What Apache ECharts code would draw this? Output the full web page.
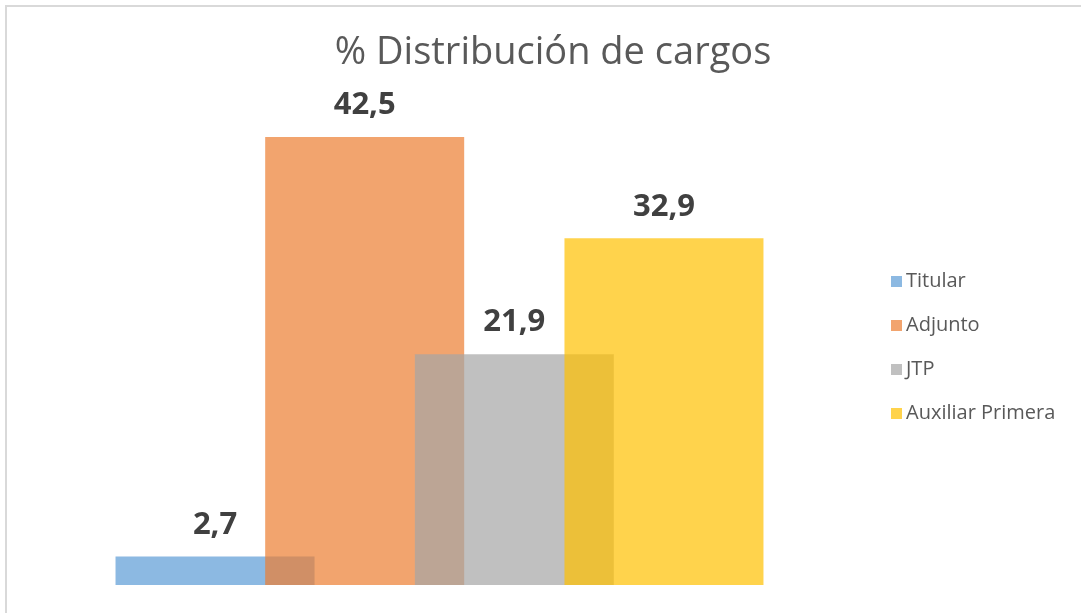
<!DOCTYPE html>
<html><head><meta charset="utf-8">
<script src="https://cdn.jsdelivr.net/npm/echarts@6/dist/echarts.min.js"></script>
<style>
html,body{margin:0;padding:0;background:#fff;}
#wrap{position:relative;width:1081px;height:613px;overflow:hidden;}
#frame{position:absolute;left:5px;top:5px;width:1100px;height:700px;border-top:2px solid #d9d9d9;border-left:2px solid #d9d9d9;box-sizing:border-box;}
#chart{position:absolute;left:0;top:0;width:1081px;height:613px;}
</style></head>
<body><div id="wrap"><div id="frame"></div><div id="chart"></div></div>
<script>
const titleText = '% Distribución de cargos';
const categories = ['Cargos'];
const seriesNames = ['Titular', 'Adjunto', 'JTP', 'Auxiliar Primera'];
const seriesValues = [2.7, 42.5, 21.9, 32.9];
const seriesColors = ['rgba(91,155,213,0.7)', 'rgba(237,125,49,0.7)', 'rgba(165,165,165,0.7)', 'rgba(255,192,0,0.7)'];

const chart = echarts.init(document.getElementById('chart'), null, {renderer: 'canvas'});
const series = seriesNames.map((name, i) => ({
  name: name,
  type: 'bar',
  data: [seriesValues[i]],
  barWidth: 199,
  barGap: '-24.8%',
  itemStyle: {color: seriesColors[i]},
  emphasis: {disabled: true},
  label: {
    show: true, position: 'top', distance: 16,
    fontFamily: 'Open Sans', fontWeight: 'bold', fontSize: 31, color: '#404040',
    formatter: p => String(p.value).replace('.', ',')
  }
}));
chart.setOption({
  animation: false,
  backgroundColor: 'transparent',
  title: {
    text: titleText, left: 548, textAlign: 'center', top: 29,
    textStyle: {fontFamily: 'Open Sans', fontWeight: 'normal', fontSize: 38, color: '#595959'}
  },
  legend: {
    orient: 'vertical', left: 886, top: 266, itemGap: 23,
    itemWidth: 11, itemHeight: 11, icon: 'rect',
    textStyle: {fontFamily: 'Open Sans', fontSize: 20, lineHeight: 21, color: '#595959', padding: [0,0,0,-1]},
    data: seriesNames
  },
  grid: {left: 115, right: 317, top: 137, bottom: 28},
  xAxis: {type: 'category', data: categories, show: false},
  yAxis: {type: 'value', min: 0, max: 42.5, show: false, splitLine: {show: false}},
  series: series
});
</script></body></html>
